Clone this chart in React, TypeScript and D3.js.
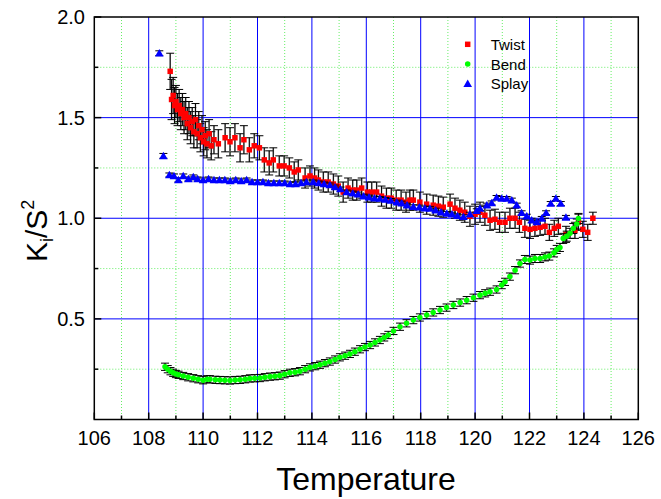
import React from 'react';
import * as d3 from 'd3';

// [temperature, K/S^2, error]
const twist: [number, number, number][] = [
  [108.79, 1.73, 0.09], [108.84, 1.59, 0.1], [108.9, 1.61, 0.09], [108.95, 1.56, 0.09],
  [109.0, 1.58, 0.08], [109.06, 1.54, 0.08], [109.12, 1.56, 0.08], [109.18, 1.52, 0.08],
  [109.24, 1.54, 0.08], [109.3, 1.5, 0.08], [109.36, 1.52, 0.08], [109.42, 1.47, 0.08],
  [109.48, 1.5, 0.08], [109.54, 1.45, 0.08], [109.6, 1.48, 0.07], [109.66, 1.43, 0.08],
  [109.72, 1.49, 0.08], [109.78, 1.42, 0.07], [109.84, 1.46, 0.07], [109.9, 1.4, 0.07],
  [109.96, 1.44, 0.07], [110.02, 1.38, 0.07], [110.08, 1.41, 0.07], [110.14, 1.37, 0.07],
  [110.22, 1.42, 0.07], [110.3, 1.36, 0.07], [110.4, 1.39, 0.07], [110.56, 1.37, 0.07],
  [110.81, 1.4, 0.07], [110.99, 1.38, 0.07], [111.17, 1.4, 0.07], [111.36, 1.35, 0.07],
  [111.5, 1.39, 0.07], [111.7, 1.34, 0.06], [111.88, 1.36, 0.06], [112.07, 1.35, 0.06],
  [112.25, 1.29, 0.06], [112.43, 1.275, 0.06], [112.58, 1.29, 0.06], [112.8, 1.26, 0.05],
  [112.98, 1.26, 0.05], [113.17, 1.25, 0.05], [113.35, 1.23, 0.05], [113.5, 1.24, 0.05],
  [113.75, 1.2, 0.05], [113.93, 1.21, 0.05], [114.1, 1.2, 0.05], [114.24, 1.19, 0.05],
  [114.42, 1.18, 0.05], [114.6, 1.18, 0.05], [114.79, 1.17, 0.05], [114.97, 1.16, 0.05],
  [115.15, 1.13, 0.05], [115.33, 1.15, 0.05], [115.5, 1.14, 0.05], [115.65, 1.14, 0.05],
  [115.83, 1.15, 0.05], [116.04, 1.13, 0.05], [116.2, 1.13, 0.05], [116.38, 1.13, 0.05],
  [116.56, 1.11, 0.05], [116.74, 1.1, 0.05], [116.92, 1.1, 0.05], [117.1, 1.09, 0.05],
  [117.28, 1.09, 0.05], [117.46, 1.08, 0.05], [117.6, 1.09, 0.05], [117.73, 1.09, 0.05],
  [117.97, 1.08, 0.05], [118.22, 1.07, 0.05], [118.46, 1.065, 0.05], [118.65, 1.06, 0.05],
  [118.83, 1.055, 0.05], [119.08, 1.07, 0.05], [119.26, 1.05, 0.05], [119.44, 1.04, 0.05],
  [119.62, 1.03, 0.05], [119.81, 1.01, 0.05], [120.0, 1.02, 0.05], [120.18, 1.03, 0.05],
  [120.36, 1.015, 0.05], [120.55, 0.99, 0.05], [120.73, 0.995, 0.05], [120.9, 0.98, 0.05],
  [121.1, 0.98, 0.05], [121.28, 1.0, 0.05], [121.47, 1.0, 0.05], [121.63, 0.98, 0.05],
  [121.83, 0.95, 0.045], [122.02, 0.945, 0.045], [122.2, 0.95, 0.04], [122.39, 0.955, 0.04],
  [122.57, 0.96, 0.04], [122.73, 0.93, 0.04], [122.91, 0.95, 0.04], [123.06, 0.96, 0.04],
  [123.34, 0.92, 0.04], [123.67, 0.94, 0.04], [123.8, 0.98, 0.04], [123.96, 0.945, 0.04],
  [124.14, 0.93, 0.04], [124.33, 1.0, 0.03],
];

const bend: [number, number, number][] = [
  [108.6, 0.262, 0.018], [108.7, 0.25, 0.018], [108.8, 0.24, 0.018], [108.9, 0.232, 0.018],
  [109.0, 0.226, 0.018], [109.1, 0.222, 0.018], [109.27, 0.216, 0.018], [109.45, 0.21, 0.018],
  [109.64, 0.205, 0.018], [109.82, 0.2, 0.018], [110.0, 0.195, 0.018], [110.15, 0.2, 0.018],
  [110.25, 0.2, 0.018], [110.45, 0.197, 0.018], [110.62, 0.196, 0.018], [110.8, 0.195, 0.018],
  [110.99, 0.194, 0.018], [111.18, 0.196, 0.018], [111.36, 0.197, 0.018], [111.55, 0.2, 0.018],
  [111.72, 0.204, 0.018], [111.9, 0.205, 0.018], [112.09, 0.206, 0.018], [112.27, 0.21, 0.018],
  [112.46, 0.213, 0.018], [112.64, 0.215, 0.018], [112.82, 0.218, 0.018], [113.0, 0.225, 0.018],
  [113.19, 0.232, 0.018], [113.38, 0.235, 0.018], [113.56, 0.24, 0.018], [113.75, 0.25, 0.018],
  [113.93, 0.259, 0.018], [114.12, 0.265, 0.018], [114.3, 0.272, 0.018], [114.48, 0.28, 0.018],
  [114.66, 0.288, 0.018], [114.85, 0.298, 0.018], [115.03, 0.309, 0.018], [115.22, 0.317, 0.018],
  [115.4, 0.326, 0.018], [115.58, 0.337, 0.018], [115.77, 0.349, 0.018], [115.95, 0.36, 0.018],
  [116.14, 0.37, 0.018], [116.32, 0.383, 0.018], [116.5, 0.395, 0.018], [116.66, 0.408, 0.018],
  [116.81, 0.42, 0.018], [117.0, 0.44, 0.018], [117.24, 0.461, 0.018], [117.48, 0.478, 0.018],
  [117.73, 0.494, 0.018], [117.97, 0.507, 0.018], [118.22, 0.519, 0.018], [118.46, 0.532, 0.018],
  [118.71, 0.544, 0.018], [118.95, 0.556, 0.018], [119.2, 0.569, 0.018], [119.45, 0.581, 0.018],
  [119.69, 0.593, 0.018], [119.94, 0.605, 0.018], [120.18, 0.618, 0.018], [120.37, 0.627, 0.018],
  [120.55, 0.635, 0.018], [120.79, 0.646, 0.018], [120.98, 0.668, 0.018], [121.1, 0.684, 0.018],
  [121.28, 0.71, 0.018], [121.47, 0.742, 0.018], [121.65, 0.775, 0.018], [121.83, 0.795, 0.02],
  [122.02, 0.792, 0.02], [122.2, 0.8, 0.02], [122.39, 0.8, 0.02], [122.57, 0.808, 0.02],
  [122.73, 0.812, 0.02], [122.9, 0.828, 0.02], [123.0, 0.845, 0.02], [123.12, 0.855, 0.02],
  [123.24, 0.9, 0.025], [123.37, 0.911, 0.025], [123.49, 0.925, 0.025], [123.61, 0.949, 0.025],
  [123.74, 0.971, 0.025], [123.8, 0.999, 0.025],
];

const splay: [number, number, number][] = [
  [108.39, 1.82, 0.012], [108.54, 1.31, 0.012], [108.76, 1.215, 0.01], [108.93, 1.21, 0.01],
  [109.09, 1.19, 0.01], [109.27, 1.21, 0.01], [109.46, 1.195, 0.01], [109.64, 1.205, 0.01],
  [109.8, 1.195, 0.01], [110.0, 1.19, 0.01], [110.2, 1.195, 0.01], [110.4, 1.19, 0.01],
  [110.6, 1.19, 0.01], [110.8, 1.19, 0.01], [111.0, 1.185, 0.01], [111.2, 1.19, 0.01],
  [111.4, 1.185, 0.01], [111.6, 1.19, 0.01], [111.8, 1.18, 0.01], [112.0, 1.18, 0.01],
  [112.2, 1.18, 0.01], [112.4, 1.175, 0.01], [112.6, 1.175, 0.01], [112.8, 1.175, 0.01],
  [113.0, 1.175, 0.01], [113.2, 1.17, 0.01], [113.4, 1.17, 0.01], [113.6, 1.175, 0.01],
  [113.8, 1.18, 0.01], [114.05, 1.18, 0.01], [114.25, 1.175, 0.01], [114.45, 1.17, 0.01],
  [114.66, 1.165, 0.01], [114.85, 1.155, 0.01], [115.05, 1.145, 0.01], [115.28, 1.13, 0.01],
  [115.5, 1.125, 0.01], [115.7, 1.12, 0.01], [115.9, 1.11, 0.01], [116.1, 1.105, 0.01],
  [116.3, 1.1, 0.01], [116.5, 1.098, 0.01], [116.7, 1.093, 0.01], [116.9, 1.088, 0.01],
  [117.12, 1.08, 0.01], [117.3, 1.075, 0.01], [117.5, 1.065, 0.01], [117.73, 1.057, 0.01],
  [117.95, 1.055, 0.01], [118.15, 1.05, 0.01], [118.34, 1.049, 0.01], [118.55, 1.04, 0.01],
  [118.75, 1.03, 0.01], [118.96, 1.024, 0.01], [119.15, 1.02, 0.01], [119.35, 1.012, 0.01],
  [119.57, 1.007, 0.01], [119.81, 1.02, 0.01], [120.06, 1.037, 0.01], [120.18, 1.049, 0.01],
  [120.43, 1.065, 0.01], [120.61, 1.076, 0.01], [120.79, 1.103, 0.01], [120.98, 1.098, 0.01],
  [121.16, 1.098, 0.01], [121.35, 1.09, 0.01], [121.53, 1.065, 0.01], [121.71, 1.027, 0.01],
  [121.9, 1.01, 0.01], [122.08, 0.99, 0.01], [122.27, 0.982, 0.01], [122.45, 0.999, 0.01],
  [122.61, 1.027, 0.01], [122.78, 1.073, 0.01], [122.97, 1.098, 0.01], [123.15, 1.073, 0.01],
  [123.34, 1.004, 0.01],
];

const xTicks = [106, 108, 110, 112, 114, 116, 118, 120, 122, 124, 126];
const xMinor = [107, 109, 111, 113, 115, 117, 119, 121, 123, 125];
const yTicks = [0.5, 1.0, 1.5, 2.0];
const yMinor = [0.25, 0.75, 1.25, 1.75];

const legendItems = [
  { name: 'Twist', color: '#ff0000', shape: 'square' },
  { name: 'Bend', color: '#00ff00', shape: 'circle' },
  { name: 'Splay', color: '#0000ff', shape: 'triangle' },
];

const font = "'Liberation Sans', Arial, sans-serif";

const left = 94.3, right = 638.3, top = 17, bottom = 419.5;

const x = d3.scaleLinear().domain([106, 126]).range([left, right]);
const y = d3.scaleLinear().domain([0, 2]).range([bottom, top]);

const tri = d3.symbol().type(d3.symbolTriangle).size(32)();
const circ = d3.symbol().type(d3.symbolCircle).size(24)();
const sq = d3.symbol().type(d3.symbolSquare).size(30)();

function marker(shape: string, color: string, cx: number, cy: number, key: any) {
  const d = shape === 'square' ? sq : shape === 'circle' ? circ : tri;
  const dy = shape === 'triangle' ? 0.8 : 0;
  return <path key={key} d={d!} transform={`translate(${cx},${cy + dy})`} fill={color} />;
}

function Series({ data, shape, color }: { data: [number, number, number][]; shape: string; color: string }) {
  return (
    <g>
      <g stroke="#000" strokeWidth={1} fill="none">
        {data.map((d, i) => {
          const cx = x(d[0]);
          const y1 = y(d[1] + d[2]);
          const y2 = y(d[1] - d[2]);
          return (
            <g key={i}>
              <line x1={cx} x2={cx} y1={y1} y2={y2} stroke="#555" strokeWidth={1.6} opacity={0.5} />
              <line x1={cx} x2={cx} y1={y1} y2={y2} />
              <line x1={cx - 4} x2={cx + 4} y1={y1} y2={y1} />
              <line x1={cx - 4} x2={cx + 4} y1={y2} y2={y2} />
            </g>
          );
        })}
      </g>
      {data.map((d, i) => marker(shape, color, x(d[0]), y(d[1]), i))}
    </g>
  );
}

export default function App() {
  return (
    <svg width={661} height={499} style={{ position: 'absolute', left: 0, top: 0 }}>
      <rect width={661} height={499} fill="#fff" />
      {/* minor grid */}
      <g stroke="#66ee66" strokeWidth={1} strokeDasharray="1,2">
        {xMinor.map(t => <line key={t} x1={x(t)} x2={x(t)} y1={top} y2={bottom} />)}
        {yMinor.map(t => <line key={t} x1={left} x2={right} y1={y(t)} y2={y(t)} />)}
      </g>
      {/* major grid */}
      <g stroke="#0000ff" strokeWidth={1}>
        {xTicks.slice(1, -1).map(t => <line key={t} x1={x(t)} x2={x(t)} y1={top} y2={bottom} />)}
        {yTicks.slice(0, -1).map(t => <line key={t} x1={left} x2={right} y1={y(t)} y2={y(t)} />)}
      </g>

      <Series data={twist} shape="square" color="#ff0000" />
      <Series data={bend} shape="circle" color="#00ff00" />
      <Series data={splay} shape="triangle" color="#0000ff" />

      {/* frame */}
      <rect x={left} y={top} width={right - left} height={bottom - top} fill="none" stroke="#000" strokeWidth={1.5} />

      {/* ticks */}
      <g stroke="#000" strokeWidth={1.5}>
        {xTicks.map(t => <line key={t} x1={x(t)} x2={x(t)} y1={bottom} y2={bottom - 7} />)}
        {xMinor.map(t => <line key={t} x1={x(t)} x2={x(t)} y1={bottom} y2={bottom - 4} />)}
        {yTicks.map(t => <line key={t} x1={left} x2={left + 7} y1={y(t)} y2={y(t)} />)}
        {yMinor.map(t => <line key={t} x1={left} x2={left + 4} y1={y(t)} y2={y(t)} />)}
      </g>

      <g fontFamily={font} fontSize={20} fill="#000">
        {xTicks.map(t => (
          <text key={t} x={x(t)} y={445} textAnchor="middle">{t}</text>
        ))}
        {yTicks.map(t => (
          <text key={t} x={85} y={y(t) + 7} textAnchor="end">{d3.format('.1f')(t)}</text>
        ))}
      </g>

      <text x={366} y={490} textAnchor="middle" fontFamily={font} fontSize={32}>Temperature</text>
      <text transform="translate(47,262) rotate(-90)" fontFamily={font} fontSize={30}>
        K<tspan fontSize={18} dy={6}>i</tspan><tspan dy={-6}>/S</tspan><tspan fontSize={18} dy={-13}>2</tspan>
      </text>

      <g fontFamily={font} fontSize={15}>
        {legendItems.map((it, i) => (
          <g key={it.name}>
            {marker(it.shape, it.color, 467.7, 44.3 + i * 19.7, 'm')}
            <text x={490.7} y={44.3 + i * 19.7 + 5.5}>{it.name}</text>
          </g>
        ))}
      </g>
    </svg>
  );
}
